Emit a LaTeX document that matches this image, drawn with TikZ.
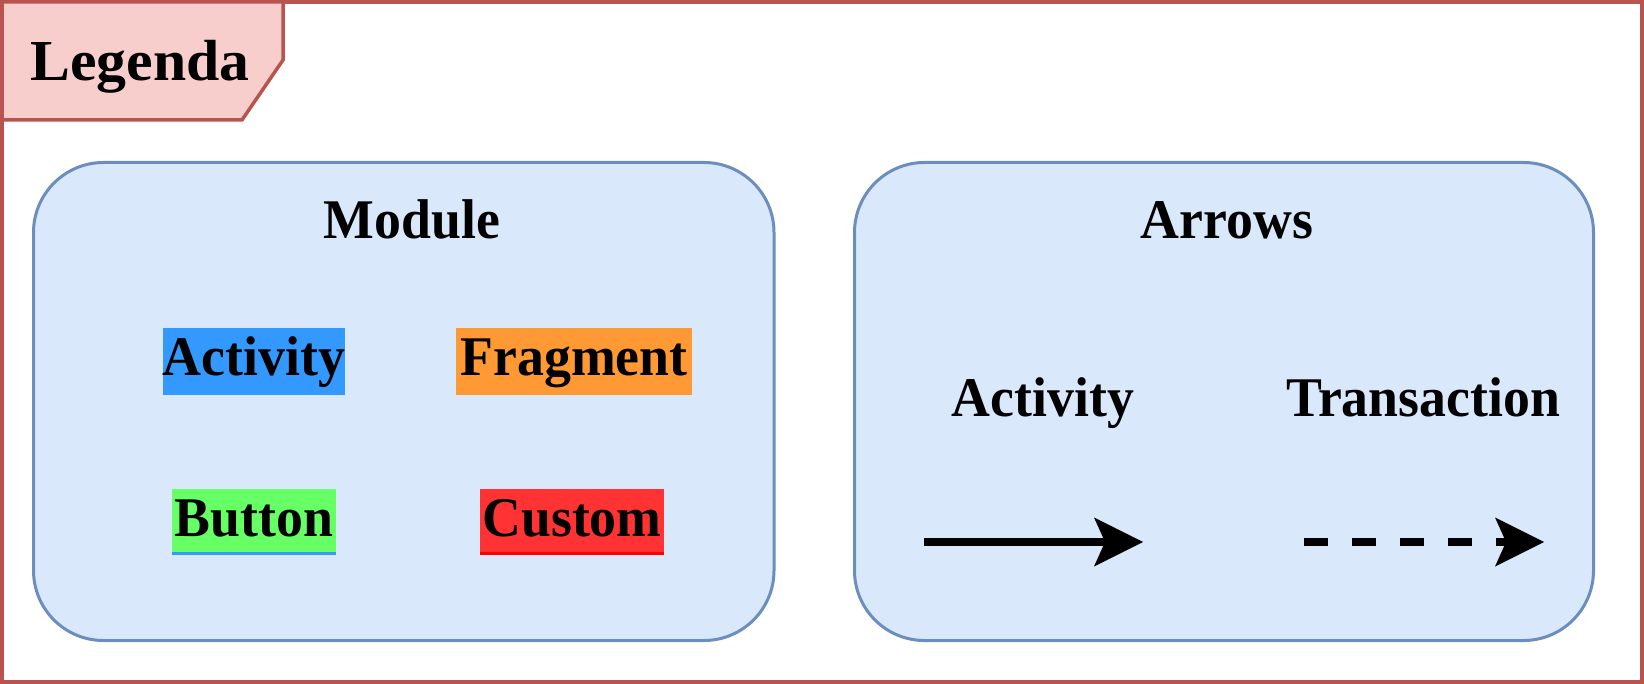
\documentclass[tikz,border=0pt]{standalone}
\usepackage{fontspec}
\setmainfont{Liberation Serif}
\newfontfamily\btfont[FakeStretch=0.96]{Liberation Serif}
\newfontfamily\legfont[FakeStretch=1.03]{Liberation Serif}
\usetikzlibrary{arrows.meta}
\definecolor{frameR}{HTML}{B85450}
\definecolor{tabF}{HTML}{F8CECC}
\definecolor{boxF}{HTML}{DAE8FC}
\definecolor{boxS}{HTML}{6C8EBF}
\definecolor{actC}{HTML}{3399FF}
\definecolor{fragC}{HTML}{FF9933}
\definecolor{btnC}{HTML}{66FF66}
\definecolor{custC}{HTML}{FF3333}
\definecolor{custL}{HTML}{FF0000}
\tikzset{
  lbl/.style={font=\btfont\bfseries\fontsize{56}{60}\selectfont, anchor=base, inner sep=0pt},
  chipbox/.style={lbl, text height=48pt, text depth=19pt, minimum height=67pt},
  chipboxb/.style={lbl, text height=47pt, text depth=19pt, minimum height=66pt},
  group/.style={draw=boxS, fill=boxF, line width=3pt, rounded corners=70pt},
  arrowline/.style={line width=8pt, black,
    -{Stealth[length=49pt, width=49pt, inset=11pt, line width=0pt]}},
}
\begin{document}
\begin{tikzpicture}[x=1pt, y=-1pt]
\useasboundingbox (0,0) rectangle (1644,684);
% outer frame
\draw[frameR, line width=4pt] (2,2) rectangle (1642,682);
% tab
\draw[frameR, fill=tabF, line width=3.5pt, line join=miter]
  (2,2) -- (283,2) -- (283,60) -- (242,120) -- (2,120) -- cycle;
\node[font=\legfont\bfseries\fontsize{58}{62}\selectfont, anchor=base, inner sep=0pt] (leg) at (140,81) {Legenda};
% group boxes
\draw[group] (33.5,162.5) rectangle (774,640.5);
\draw[group] (854.5,162.5) rectangle (1593.5,640.5);
\node[lbl] (modt) at (412,239) {Module};
\node[lbl] (arrt) at (1227,239) {Arrows};
% chips
\node[chipbox, fill=actC, minimum width=180pt] (act) at (254,376) {Activity};
\node[chipbox, fill=fragC, minimum width=236pt] (frag) at (574,376) {Fragment};
\node[chipboxb, fill=btnC, minimum width=164pt] (btn) at (254,536) {Button};
\node[chipboxb, fill=custC, minimum width=184pt] (cust) at (572,536) {Custom};
\draw[actC, line width=3pt] ([yshift=1.5pt]btn.south west) -- ([yshift=1.5pt]btn.south east);
\draw[custL, line width=3pt] ([yshift=1.5pt]cust.south west) -- ([yshift=1.5pt]cust.south east);
% arrows
\node[lbl] (aact) at (1043,417) {Activity};
\node[lbl] (atra) at (1423,417) {Transaction};
\coordinate (s1) at (924,542);
\coordinate (s2) at (1143,542);
\coordinate (d1) at (1304,542);
\coordinate (d2) at (1544,542);
\draw[arrowline] (s1) -- (s2);
\draw[arrowline, dash pattern=on 24pt off 24pt] (d1) -- (d2);
\end{tikzpicture}
\end{document}
